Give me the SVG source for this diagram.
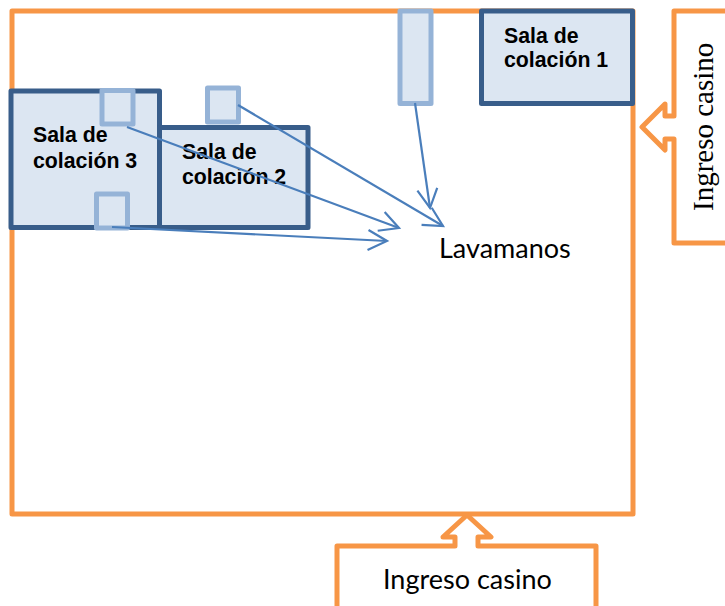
<svg xmlns="http://www.w3.org/2000/svg" width="725" height="606" viewBox="0 0 725 606">
<style>
.o{fill:#fff;stroke:#f79646;stroke-width:5;stroke-linejoin:round}
.r{fill:#dce6f2;stroke:#385d8a;stroke-width:5;stroke-linejoin:round}
.s{fill:#dce6f2;stroke:#95b3d7;stroke-width:5;stroke-linejoin:round}
.b{font:bold 21.300px "Liberation Sans",Arial,sans-serif;fill:#000}
.c{font:27px Lato,"Noto Sans",sans-serif;fill:#000}
.l{fill:none;stroke:#4a7ebb;stroke-width:2.200;marker-end:url(#a)}
</style>
<defs><marker id="a" markerUnits="userSpaceOnUse" markerWidth="24" markerHeight="26" refX="21" refY="12" orient="auto"><path d="M2,2 L21,12 L2,22" fill="none" stroke="#4a7ebb" stroke-width="2.200"/></marker></defs>
<g id="sala-principal"><rect class="o" x="12" y="11" width="621" height="503"/></g>
<g id="ingreso-derecha"><path class="o" d="M728,11H674V116H665V104L642,127L665,150V139H674V243H728"/><text transform="translate(713 211) rotate(-90)" font-family="Liberation Serif,serif" font-size="29">Ingreso casino</text></g>
<g id="ingreso-abajo"><path class="o" d="M337,608V546H455V537H443L467,515L491,537H478V546H596V608"/><text class="c" x="383" y="589">Ingreso casino</text></g>
<g id="sala-3"><rect class="r" x="11" y="91" width="148.500" height="136.500"/><text class="b" x="33" y="142">Sala de</text><text class="b" x="33" y="168">colación 3</text></g>
<g id="sala-2"><rect class="r" x="159.500" y="127.500" width="148.500" height="100"/><text class="b" x="182" y="159">Sala de</text><text class="b" x="182" y="184">colación 2</text></g>
<g id="sala-1"><rect class="r" x="481.500" y="11" width="151" height="92.500"/><text class="b" x="504" y="43">Sala de</text><text class="b" x="504" y="67">colación 1</text></g>
<g id="lavamanos-1"><rect class="s" x="400" y="11" width="31" height="92.500"/></g>
<g id="lavamanos-2"><rect class="s" x="207.500" y="88" width="31" height="34"/></g>
<g id="lavamanos-3"><rect class="s" x="102" y="90.500" width="31" height="33.500"/></g>
<g id="lavamanos-4"><rect class="s" x="96.500" y="194" width="31" height="34"/></g>
<g id="lavamanos"><text class="c" x="439" y="258">Lavamanos</text></g>
<g id="conectores">
<path class="l" d="M415,103L430,208"/>
<path class="l" d="M238,105L443,226"/>
<path class="l" d="M127,127L399,228"/>
<path class="l" d="M112,227L387,241"/>
</g>
</svg>
